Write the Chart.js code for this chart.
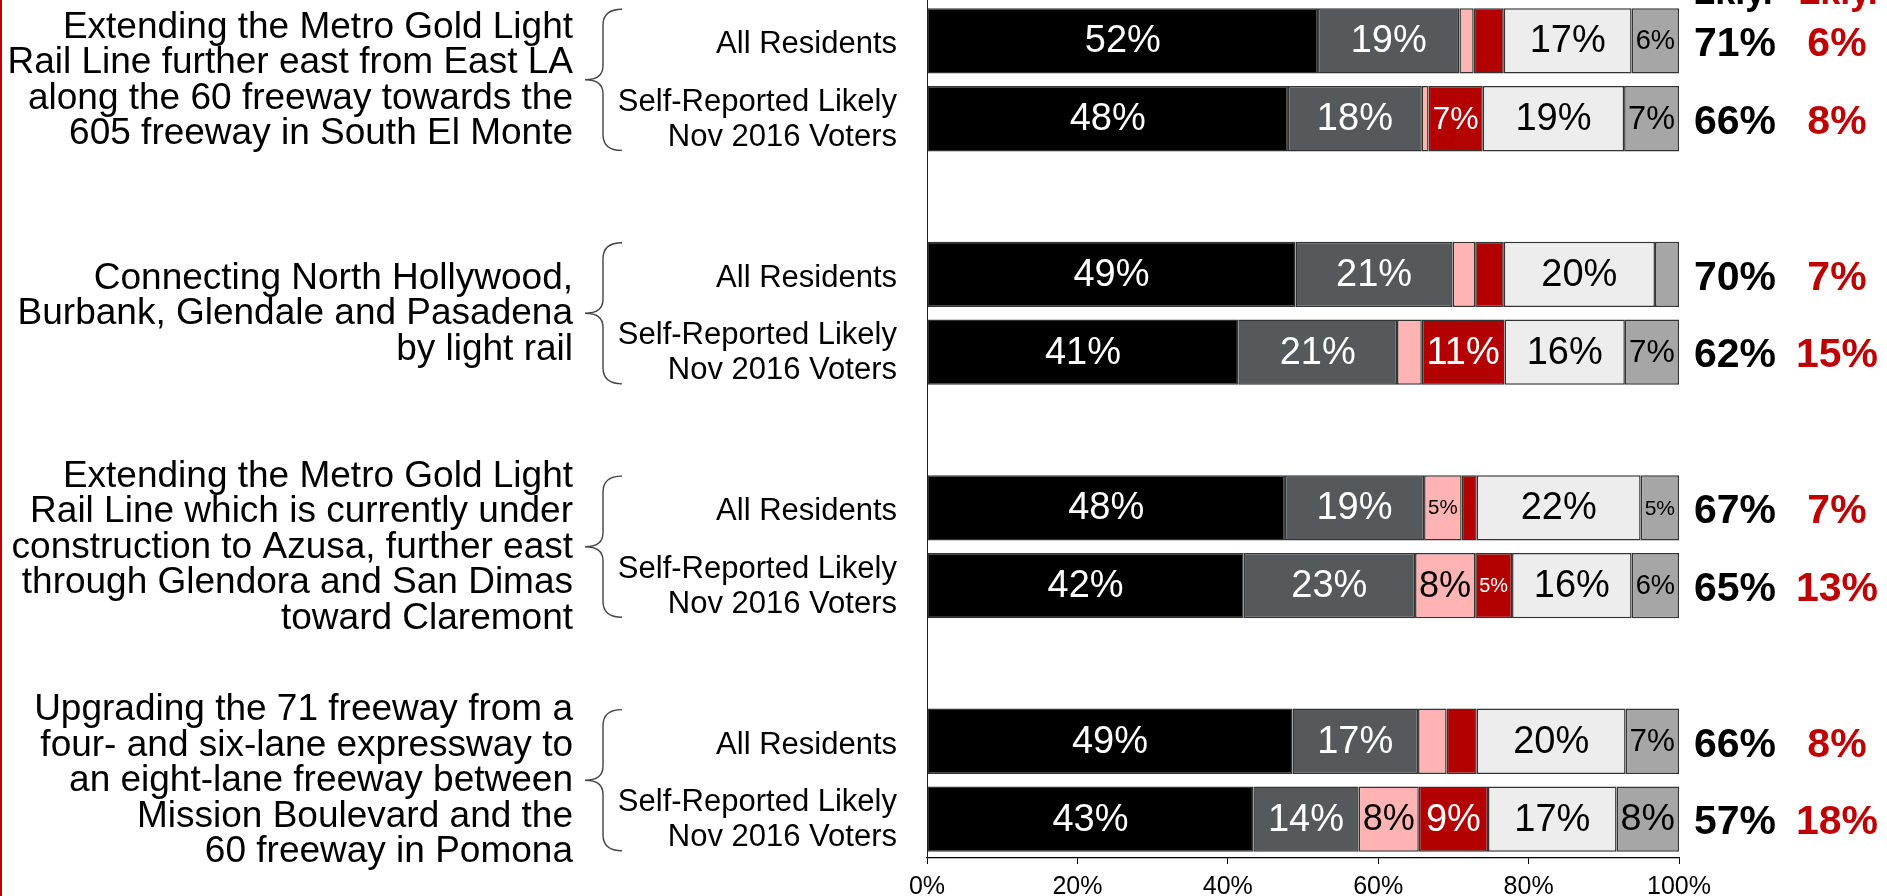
<!DOCTYPE html>
<html>
<head>
<meta charset="utf-8">
<script src="https://cdn.jsdelivr.net/npm/chart.js@4.4.1/dist/chart.umd.min.js"></script>
<style>
  html, body { margin: 0; padding: 0; background: #fff; }
  #wrap { width: 1887px; height: 896px; position: relative; }
</style>
</head>
<body>
<div id="wrap"><canvas id="grafico" width="1887" height="896"></canvas></div>
<script>
// Filas: dos por pregunta, con una fila vacía entre preguntas
const rowLabels = [
    ['All Residents'], ['Self-Reported Likely', 'Nov 2016 Voters'], [],
    ['All Residents'], ['Self-Reported Likely', 'Nov 2016 Voters'], [],
    ['All Residents'], ['Self-Reported Likely', 'Nov 2016 Voters'], [],
    ['All Residents'], ['Self-Reported Likely', 'Nov 2016 Voters']
];

const questions = [
    ['Extending the Metro Gold Light', 'Rail Line further east from East LA', 'along the 60 freeway towards the', '605 freeway in South El Monte'],
    ['Connecting North Hollywood,', 'Burbank, Glendale and Pasadena', 'by light rail'],
    ['Extending the Metro Gold Light', 'Rail Line which is currently under', 'construction to Azusa, further east', 'through Glendora and San Dimas', 'toward Claremont'],
    ['Upgrading the 71 freeway from a', 'four- and six-lane expressway to', 'an eight-lane freeway between', 'Mission Boulevard and the', '60 freeway in Pomona']
];

// Valores de cada segmento (%)
const defYes    = [52.0, 48.0, null, 49.0, 41.4, null, 47.6, 42.1, null, 48.6, 43.4];
const probYes   = [18.8, 17.8, null, 20.9, 21.1, null, 18.5, 22.8, null, 16.7, 14.0];
const probNo    = [1.9, 0.9, null, 3.0, 3.3, null, 5.0, 8.0, null, 3.8, 8.0];
const defNo     = [4.0, 7.2, null, 3.8, 11.0, null, 2.0, 4.9, null, 4.0, 9.2];
const undecided = [17.0, 18.8, null, 20.1, 16.0, null, 21.8, 15.9, null, 19.8, 17.1];
const dkna      = [6.3, 7.3, null, 3.2, 7.2, null, 5.1, 6.3, null, 7.1, 8.3];

// Totales a la derecha
const totalYes = [71, 66, null, 70, 62, null, 67, 65, null, 66, 57];
const totalNo  = [6, 8, null, 7, 15, null, 7, 13, null, 8, 18];

const xTicks = [0, 20, 40, 60, 80, 100];

const FONT = '"Liberation Sans", Arial, sans-serif';
const RED_TEXT = '#c00000';

const series = [
    { label: 'Definitely yes', data: defYes, color: '#000000', text: '#ffffff' },
    { label: 'Probably yes', data: probYes, color: '#55595c', text: '#ffffff' },
    { label: 'Probably no', data: probNo, color: '#ffb3b3', text: '#000000' },
    { label: 'Definitely no', data: defNo, color: '#b30000', text: '#ffffff' },
    { label: 'Undecided', data: undecided, color: '#ededed', text: '#000000' },
    { label: 'DK/NA', data: dkna, color: '#a6a6a6', text: '#000000' }
];

// Dibuja etiquetas, totales, preguntas y llaves
const overlay = {
    id: 'overlay',
    afterDatasetsDraw(chart) {
        const ctx = chart.ctx;
        const area = chart.chartArea;
        ctx.save();

        // línea roja del borde izquierdo
        ctx.fillStyle = RED_TEXT;
        ctx.fillRect(0, 0, 2, 896);

        // eje vertical
        ctx.strokeStyle = '#222';
        ctx.lineWidth = 1;
        ctx.beginPath();
        ctx.moveTo(area.left + 0.5, 0);
        ctx.lineTo(area.left + 0.5, area.bottom);
        ctx.stroke();

        // etiquetas dentro de los segmentos
        ctx.textAlign = 'center';
        ctx.textBaseline = 'middle';
        chart.data.datasets.forEach((ds, di) => {
            const meta = chart.getDatasetMeta(di);
            meta.data.forEach((bar, i) => {
                const v = ds.data[i];
                if (v == null) return;
                const r = Math.round(v);
                if (r < 5) return;
                const txt = r + '%';
                const w = Math.abs(bar.x - bar.base);
                let size = 38;
                ctx.font = size + 'px ' + FONT;
                const tw = ctx.measureText(txt).width;
                if (tw > w - 8) size = size * (w - 8) / tw;
                ctx.font = size + 'px ' + FONT;
                ctx.fillStyle = series[di].text;
                ctx.fillText(txt, (bar.x + bar.base) / 2, bar.y + 1);
            });
        });

        const meta0 = chart.getDatasetMeta(0);
        const barH = meta0.data[0].height;

        // etiquetas de fila y totales
        rowLabels.forEach((lines, i) => {
            if (!lines.length) return;
            const y = meta0.data[i].y;
            ctx.font = '31px ' + FONT;
            ctx.fillStyle = '#000';
            ctx.textAlign = 'right';
            const lh = 35;
            const y0 = lines.length > 1 ? y + 1 - lh * (lines.length - 1) / 2 : y + 4;
            lines.forEach((t, k) => ctx.fillText(t, 897, y0 + k * lh));

            ctx.textAlign = 'center';
            ctx.font = 'bold 41px ' + FONT;
            ctx.fillStyle = '#000';
            ctx.fillText(totalYes[i] + '%', 1735, y + 4);
            ctx.fillStyle = RED_TEXT;
            ctx.fillText(totalNo[i] + '%', 1837, y + 4);
        });

        // preguntas y llaves
        questions.forEach((lines, q) => {
            const a = meta0.data[q * 3];
            const b = meta0.data[q * 3 + 1];
            const cy = (a.y + b.y) / 2;
            const lh = 35.5;
            ctx.font = '37px ' + FONT;
            ctx.fillStyle = '#000';
            ctx.textAlign = 'right';
            const y0 = cy - lh * (lines.length - 1) / 2 + 1;
            lines.forEach((t, k) => ctx.fillText(t, 573, y0 + k * lh));

            const top = a.y - barH / 2 + 1;
            const bot = b.y + barH / 2 - 1;
            const xe = 622, xm = 603, xt = 585;
            ctx.strokeStyle = '#444';
            ctx.lineWidth = 1.4;
            ctx.beginPath();
            ctx.moveTo(xe, top);
            ctx.quadraticCurveTo(xm, top, xm, top + 16);
            ctx.lineTo(xm, cy - 14);
            ctx.quadraticCurveTo(xm, cy, xt, cy);
            ctx.quadraticCurveTo(xm, cy, xm, cy + 14);
            ctx.lineTo(xm, bot - 16);
            ctx.quadraticCurveTo(xm, bot, xe, bot);
            ctx.stroke();
        });

        // cabeceras cortadas arriba
        ctx.textAlign = 'center';
        ctx.textBaseline = 'alphabetic';
        ctx.font = 'bold 36px ' + FONT;
        ctx.fillStyle = '#000';
        ctx.fillText('Lkly.', 1733, 4);
        ctx.fillStyle = RED_TEXT;
        ctx.fillText('Lkly.', 1838, 4);

        ctx.restore();
    }
};

const config = {
    type: 'bar',
    data: {
        labels: rowLabels.map(l => l.join(' ')),
        datasets: series.map(s => ({
            label: s.label,
            data: s.data,
            backgroundColor: s.color,
            borderColor: '#333',
            borderWidth: 1.5,
            borderSkipped: false,
            barPercentage: 0.84,
            categoryPercentage: 1
        }))
    },
    options: {
        indexAxis: 'y',
        responsive: false,
        animation: false,
        layout: { padding: { left: 927, right: 208, top: 2, bottom: 0 } },
        plugins: {
            legend: { display: false },
            tooltip: { enabled: false },
            title: { display: false }
        },
        scales: {
            x: {
                stacked: true,
                min: 0,
                max: 100,
                afterBuildTicks: scale => { scale.ticks = xTicks.map(v => ({ value: v })); },
                afterFit: scale => { scale.height = 38; },
                ticks: {
                    callback: v => v + '%',
                    color: '#000',
                    font: { family: FONT, size: 25 },
                    padding: 8,
                    maxRotation: 0
                },
                grid: { drawOnChartArea: false, color: '#000', tickColor: '#000', tickLength: 6 },
                border: { display: true, color: '#000', width: 1.2 }
            },
            y: {
                stacked: true,
                display: false
            }
        }
    },
    plugins: [overlay]
};

new Chart(document.getElementById('grafico'), config);
</script>
</body>
</html>
